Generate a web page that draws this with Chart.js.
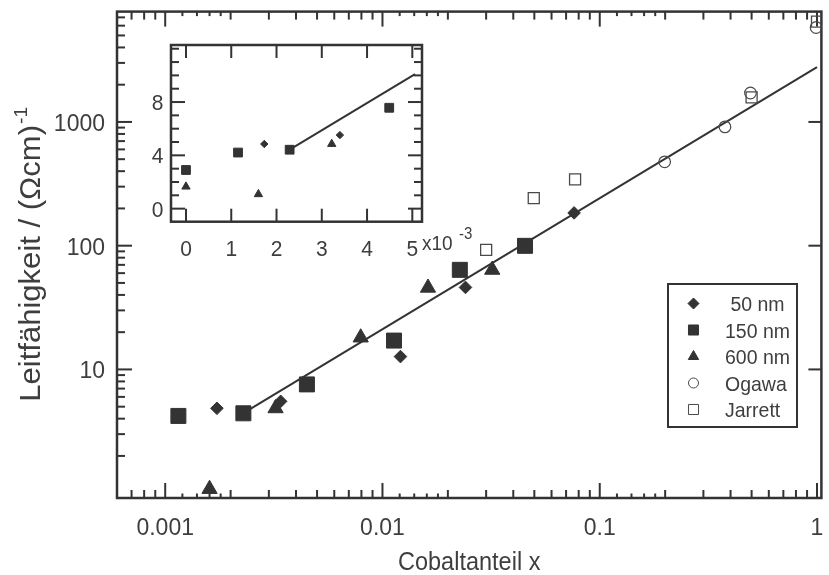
<!DOCTYPE html>
<html lang="de">
<head>
<meta charset="utf-8">
<title>Leitfähigkeit vs. Cobaltanteil</title>
<script src="https://cdn.jsdelivr.net/npm/chart.js@4/dist/chart.umd.min.js"></script>
<style>
    html, body { margin: 0; padding: 0; background: #fff; overflow: hidden; }
    #wrap { position: relative; width: 833px; height: 575px; }
    #mainChart { position: absolute; left: 0; top: 0; }
    #insetChart { position: absolute; left: 100px; top: 30px; }
</style>
</head>
<body>
<div id="wrap">
    <canvas id="mainChart" width="833" height="575"></canvas>
    <canvas id="insetChart" width="400" height="240"></canvas>
</div>
<script>
// Data (x = cobalt fraction, y = conductivity in (Ohm cm)^-1)
const x50 = [0.00173, 0.00340, 0.0121, 0.0241, 0.0762];
const y50 = [4.85, 5.52, 12.7, 46, 184];

const x150 = [0.00115, 0.00229, 0.00449, 0.0113, 0.0227, 0.0453];
const y150 = [4.21, 4.42, 7.57, 17.1, 63.8, 99.7];

const x600 = [0.00160, 0.00322, 0.00794, 0.0162, 0.0320];
const y600 = [1.08, 4.85, 18.1, 45.7, 63.8];

const xOgawa = [0.199, 0.377, 0.494, 0.99];
const yOgawa = [476, 912, 1714, 5800];

const xJarrett = [0.030, 0.0497, 0.0770, 0.50, 1.0];
const yJarrett = [92.6, 242, 343, 1582, 6470];

// samples without cobalt (only shown in the linear inset)
const y150AtZero = 2.9;
const y600AtZero = 1.65;

// fitted line, main plot and inset
const fitX = [0.0023, 1.0];
const fitY = [4.45, 2770];
const insetFitX = [0.0023, 0.00506];
const insetFitY = [4.45, 10.1];

// axis ticks
const xMajorTicks = [0.001, 0.01, 0.1, 1];
const xMajorLabels = ['0.001', '0.01', '0.1', '1'];
const yMajorTicks = [10, 100, 1000];
const yMajorLabels = ['10', '100', '1000'];
const insetXTicks = [0, 0.001, 0.002, 0.003, 0.004, 0.005];
const insetXLabels = ['0', '1', '2', '3', '4', '5'];
const insetYMajor = [0, 4, 8];
const insetYLabels = ['0', '4', '8'];

const INK = '#333333';
const TEXT = '#3e3e3e';
const FONT = '"Liberation Sans", Arial, sans-serif';
const SY = 1.07; // the reference is slightly stretched vertically

function pts(xs, ys) {
    return xs.map(function (v, i) { return { x: v, y: ys[i] }; });
}

function line(ctx, x1, y1, x2, y2) {
    ctx.beginPath();
    ctx.moveTo(x1, y1);
    ctx.lineTo(x2, y2);
    ctx.stroke();
}

function text(ctx, str, x, y, size, align) {
    ctx.save();
    ctx.translate(x, y);
    ctx.scale(1, SY);
    ctx.font = size + 'px ' + FONT;
    ctx.textAlign = align || 'left';
    ctx.textBaseline = 'alphabetic';
    ctx.fillStyle = TEXT;
    ctx.fillText(str, 0, 0);
    ctx.restore();
}

// multiples of each decade inside [min, max]
function logTicks(min, max, mults) {
    const out = [];
    for (let e = Math.floor(Math.log10(min)); e <= Math.ceil(Math.log10(max)); e++) {
        mults.forEach(function (m) {
            const v = m * Math.pow(10, e);
            if (v >= min && v <= max) out.push(v);
        });
    }
    return out;
}

function drawMarker(ctx, style, x, y, r, filled) {
    ctx.beginPath();
    if (style === 'rectRot') {
        ctx.moveTo(x, y - r); ctx.lineTo(x + r, y); ctx.lineTo(x, y + r); ctx.lineTo(x - r, y);
        ctx.closePath();
    } else if (style === 'rect') {
        const s = r * Math.SQRT1_2;
        ctx.rect(x - s, y - s, 2 * s, 2 * s);
    } else if (style === 'triangle') {
        const w = r * Math.sin(Math.PI / 3);
        ctx.moveTo(x, y - r); ctx.lineTo(x + w, y + r / 2); ctx.lineTo(x - w, y + r / 2);
        ctx.closePath();
    } else {
        ctx.arc(x, y, r, 0, Math.PI * 2);
    }
    if (filled) ctx.fill();
    ctx.stroke();
}

// frame, inward ticks, tick labels and axis titles of the log-log plot
const mainAxes = {
    id: 'mainAxes',
    beforeDatasetsDraw(chart) {
        const ctx = chart.ctx;
        const a = chart.chartArea;
        const xs = chart.scales.x;
        const ys = chart.scales.y;
        ctx.save();
        ctx.strokeStyle = INK;
        ctx.lineWidth = 2;

        logTicks(xs.min, xs.max, [1.2, 1.4, 1.6, 1.8]).forEach(function (v) {
            const px = xs.getPixelForValue(v);
            line(ctx, px, a.bottom, px, a.bottom - 4.5);
            line(ctx, px, a.top, px, a.top + 4.5);
        });
        logTicks(xs.min, xs.max, [2, 3, 4, 5, 6, 7, 8, 9]).forEach(function (v) {
            const px = xs.getPixelForValue(v);
            line(ctx, px, a.bottom, px, a.bottom - 8);
            line(ctx, px, a.top, px, a.top + 8);
        });
        xMajorTicks.forEach(function (v) {
            const px = xs.getPixelForValue(v);
            line(ctx, px, a.bottom + 1, px, a.bottom - 15);
            line(ctx, px, a.top, px, a.top + 15);
        });
        logTicks(ys.min, ys.max, [2, 3, 4, 5, 6, 7, 8, 9]).forEach(function (v) {
            const py = ys.getPixelForValue(v);
            line(ctx, a.left, py, a.left + 8, py);
        });
        yMajorTicks.forEach(function (v) {
            const py = ys.getPixelForValue(v);
            line(ctx, a.left, py, a.left + 15, py);
            line(ctx, a.right, py, a.right - 13, py);
        });

        ctx.lineWidth = 2.5;
        ctx.strokeRect(a.left, a.top, a.right - a.left, a.bottom - a.top);

        xMajorTicks.forEach(function (v, i) {
            text(ctx, xMajorLabels[i], xs.getPixelForValue(v), 535, 23, 'center');
        });
        yMajorTicks.forEach(function (v, i) {
            text(ctx, yMajorLabels[i], 105, ys.getPixelForValue(v) + 9, 23, 'right');
        });

        text(ctx, 'Cobaltanteil x', (a.left + a.right) / 2, 570, 23.5, 'center');

        // rotated y title with superscript
        ctx.save();
        ctx.translate(40, (a.top + a.bottom) / 2);
        ctx.scale(1, SY);
        ctx.rotate(-Math.PI / 2);
        ctx.fillStyle = TEXT;
        ctx.textBaseline = 'alphabetic';
        const t1 = 'Leitfähigkeit / (Ωcm)';
        ctx.font = '29px ' + FONT;
        const w1 = ctx.measureText(t1).width;
        ctx.font = '18px ' + FONT;
        const w2 = ctx.measureText('-1').width;
        const sx = -(w1 + w2) / 2;
        ctx.font = '29px ' + FONT;
        ctx.fillText(t1, sx, 0);
        ctx.font = '18px ' + FONT;
        ctx.fillText('-1', sx + w1 + 1, -13);
        ctx.restore();

        ctx.restore();
    },
    afterDraw(chart) {
        // legend box inside the plot
        const ctx = chart.ctx;
        ctx.save();
        ctx.strokeStyle = INK;
        ctx.lineWidth = 2;
        ctx.fillStyle = '#fff';
        ctx.fillRect(668, 284, 129, 143);
        ctx.strokeRect(668, 284, 129, 143);
        const sizes = { rectRot: 5.5, rect: 7.1, triangle: 6, circle: 5 };
        chart.data.datasets.forEach(function (ds, i) {
            if (!ds.legend) return;
            const yRow = 303.5 + i * 26.5;
            ctx.fillStyle = ds.backgroundColor;
            ctx.strokeStyle = ds.borderColor;
            ctx.lineWidth = ds.legendBorder;
            drawMarker(ctx, ds.pointStyle, 693.5, yRow, sizes[ds.pointStyle], ds.backgroundColor !== 'transparent');
            text(ctx, ds.label, 725, yRow + 7.5, 19.5, 'left');
        });
        ctx.restore();
    }
};

new Chart(document.getElementById('mainChart'), {
    type: 'scatter',
    data: {
        datasets: [
            { label: ' 50 nm', data: pts(x50, y50), pointStyle: 'rectRot', pointRadius: 6.3,
              backgroundColor: INK, borderColor: INK, borderWidth: 1, legend: true, legendBorder: 1 },
            { label: '150 nm', data: pts(x150, y150), pointStyle: 'rect', pointRadius: 10.6,
              backgroundColor: INK, borderColor: INK, borderWidth: 1, legend: true, legendBorder: 1 },
            { label: '600 nm', data: pts(x600, y600), pointStyle: 'triangle', pointRadius: 8.8,
              backgroundColor: INK, borderColor: INK, borderWidth: 1, legend: true, legendBorder: 1 },
            { label: 'Ogawa', data: pts(xOgawa, yOgawa), pointStyle: 'circle', pointRadius: 5.8,
              backgroundColor: 'transparent', borderColor: '#4a4a4a', borderWidth: 1.2, legend: true, legendBorder: 1 },
            { label: 'Jarrett', data: pts(xJarrett, yJarrett), pointStyle: 'rect', pointRadius: 7.8,
              backgroundColor: 'transparent', borderColor: '#4a4a4a', borderWidth: 1.3, legend: true, legendBorder: 1 },
            { label: 'Fit', data: pts(fitX, fitY), showLine: true, pointRadius: 0,
              borderColor: INK, borderWidth: 2, backgroundColor: INK }
        ]
    },
    options: {
        responsive: false,
        animation: false,
        events: [],
        layout: { padding: { left: 117, top: 10, right: 2, bottom: 77 } },
        plugins: { legend: { display: false }, tooltip: { enabled: false } },
        scales: {
            x: { type: 'logarithmic', min: 0.000647, max: 1.0476, display: false },
            y: { type: 'logarithmic', min: 0.914, max: 7794, display: false }
        }
    },
    plugins: [mainAxes]
});

// ---- inset: linear scale, x in units of 1e-3 ----
const nearZero = function (p) { return p.x <= 0.0051; };

const insetAxes = {
    id: 'insetAxes',
    beforeDatasetsDraw(chart) {
        const ctx = chart.ctx;
        const a = chart.chartArea;
        const xs = chart.scales.x;
        const ys = chart.scales.y;
        ctx.save();
        ctx.fillStyle = '#fff';
        ctx.fillRect(a.left, a.top, a.right - a.left, a.bottom - a.top);
        ctx.strokeStyle = INK;
        ctx.lineWidth = 2;
        insetXTicks.forEach(function (v) {
            const px = xs.getPixelForValue(v);
            line(ctx, px, a.bottom, px, a.bottom - 13);
            line(ctx, px, a.top, px, a.top + 13);
        });
        for (let v = Math.ceil(ys.min); v <= ys.max; v++) {
            const py = ys.getPixelForValue(v);
            const len = insetYMajor.indexOf(v) >= 0 ? 14 : 8;
            line(ctx, a.left, py, a.left + len, py);
            line(ctx, a.right, py, a.right - len, py);
        }
        ctx.lineWidth = 2.5;
        ctx.strokeRect(a.left, a.top, a.right - a.left, a.bottom - a.top);

        insetXTicks.forEach(function (v, i) {
            text(ctx, insetXLabels[i], xs.getPixelForValue(v), 226, 21, 'center');
        });
        insetYMajor.forEach(function (v, i) {
            text(ctx, insetYLabels[i], 63.5, ys.getPixelForValue(v) + 8, 21, 'right');
        });
        text(ctx, 'x10', 322, 220, 19, 'left');
        text(ctx, '-3', 359, 209, 15, 'left');
        ctx.restore();
    }
};

new Chart(document.getElementById('insetChart'), {
    type: 'scatter',
    data: {
        datasets: [
            { data: pts(x50, y50).filter(nearZero), pointStyle: 'rectRot', pointRadius: 3.7,
              backgroundColor: INK, borderColor: INK, borderWidth: 1 },
            { data: [{ x: 0, y: y150AtZero }].concat(pts(x150, y150).filter(nearZero)), pointStyle: 'rect',
              pointRadius: 6.2, backgroundColor: INK, borderColor: INK, borderWidth: 1 },
            { data: [{ x: 0, y: y600AtZero }].concat(pts(x600, y600).filter(nearZero)), pointStyle: 'triangle',
              pointRadius: 4.8, backgroundColor: INK, borderColor: INK, borderWidth: 1 },
            { data: pts(insetFitX, insetFitY), showLine: true, pointRadius: 0,
              borderColor: INK, borderWidth: 2, backgroundColor: INK }
        ]
    },
    options: {
        responsive: false,
        animation: false,
        events: [],
        layout: { padding: { left: 71, top: 15, right: 78, bottom: 48.3 } },
        plugins: { legend: { display: false }, tooltip: { enabled: false } },
        scales: {
            x: { type: 'linear', min: -0.000331, max: 0.005214, display: false },
            y: { type: 'linear', min: -0.98, max: 12.28, display: false }
        }
    },
    plugins: [insetAxes]
});
</script>
</body>
</html>
